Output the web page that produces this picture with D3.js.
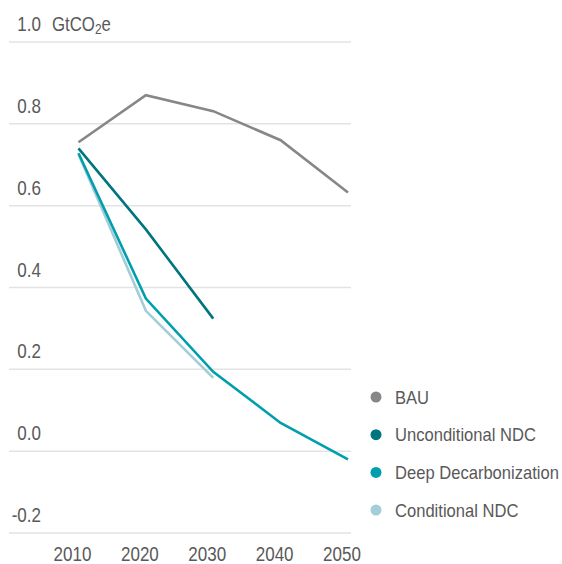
<!DOCTYPE html>
<html><head><meta charset="utf-8">
<script src="https://cdn.jsdelivr.net/npm/d3@7"></script>
<style>
body{margin:0;background:#fff;}
text{font-family:"Liberation Sans",Arial,sans-serif;fill:#595959;}
</style></head>
<body>
<svg id="c" width="562" height="564"></svg>
<script>
const years = [2010, 2020, 2030, 2040, 2050];
const yTicks = [-0.2, 0.0, 0.2, 0.4, 0.6, 0.8, 1.0];
const seriesNames = ["BAU", "Unconditional NDC", "Deep Decarbonization", "Conditional NDC"];
const seriesColors = ["#878787", "#00757f", "#009fae", "#a3cdd7"];
const bau = [0.755, 0.870, 0.831, 0.760, 0.632];
const unconditional = [0.740, 0.542, 0.324, null, null];
const deep = [0.728, 0.373, 0.194, 0.069, -0.020];
const conditional = [0.726, 0.343, 0.179, null, null];
const seriesValues = [bau, unconditional, deep, conditional];
const unitLabel = "GtCO";

const svg = d3.select("#c");
const x = d3.scaleLinear().domain([2010, 2050]).range([78.5, 348]);
const y = d3.scaleLinear().domain([-0.2, 1.0]).range([533, 42]);
const K = 0.81; // horizontal condensation for the narrow face

// gridlines
svg.append("g").selectAll("line").data(yTicks).join("line")
  .attr("x1", 9).attr("x2", 351)
  .attr("y1", d => y(d)).attr("y2", d => y(d))
  .attr("stroke", "#e3e3e3").attr("stroke-width", 1.5);

// y labels
const fmt = d => d3.format(".1f")(d).replace("\u2212", "-");
svg.append("g").selectAll("text").data(yTicks).join("text")
  .attr("transform", d => `translate(41,${y(d) - 11}) scale(${K},1)`)
  .attr("text-anchor", "end")
  .attr("font-size", 21)
  .text(d => fmt(d));

// unit label
const u = svg.append("text").attr("transform", "translate(52,31) scale(0.8,1)").attr("font-size", 21);
u.append("tspan").text(unitLabel);
u.append("tspan").attr("font-size", 15).attr("dy", 3).text("2");
u.append("tspan").attr("dy", -3).text("e");

// x labels
const xAxis = d3.axisBottom(x).tickValues(years).tickFormat(d3.format("d")).tickSize(0);
const gx = svg.append("g").attr("transform", "translate(-6.5,546)").call(xAxis);
gx.select(".domain").remove();
gx.attr("font-family", null).attr("font-size", null);
gx.selectAll("text").attr("font-size", 21).attr("dy", "0.71em").attr("y", 0)
  .attr("transform", `scale(${K},1)`)
  .attr("fill", "#595959");

// lines
const line = d3.line().defined(d => d[1] !== null).x(d => x(d[0])).y(d => y(d[1]));
const order = [0, 3, 2, 1];
order.forEach(i => {
  const pts = years.map((yr, j) => [yr, seriesValues[i][j]]);
  svg.append("path").datum(pts)
    .attr("d", line)
    .attr("fill", "none")
    .attr("stroke", seriesColors[i])
    .attr("stroke-width", 2.6)
    .attr("stroke-linejoin", "miter");
});

// legend
const lg = svg.append("g").selectAll("g").data(seriesNames).join("g")
  .attr("transform", (d, i) => `translate(376,${397 + i * 37.7})`);
lg.append("circle").attr("r", 5.5).attr("fill", (d, i) => seriesColors[i]);
const lt = lg.append("text").attr("font-size", 18).text(d => d);
const wDeep = lt.filter(d => d === "Deep Decarbonization").node().getComputedTextLength();
const kl = 164 / wDeep;
lt.attr("transform", `translate(19,6.5) scale(${kl},1)`);
</script>
</body></html>
